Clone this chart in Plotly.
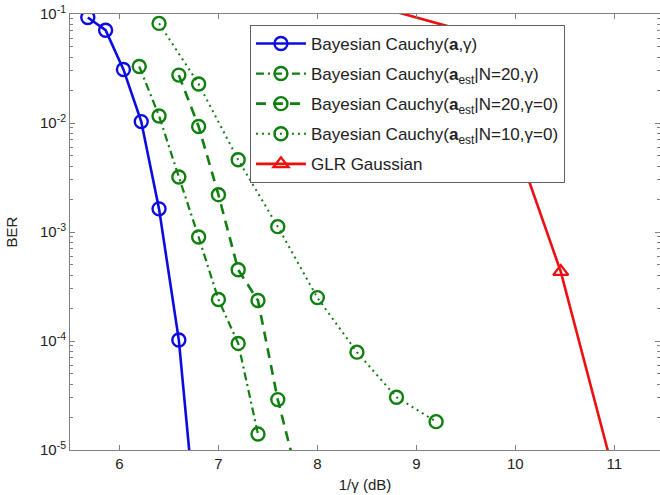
import plotly.graph_objects as go

# BER curves versus 1/gamma (dB)
bayes_x = [5.68, 5.86, 6.04, 6.22, 6.40, 6.60, 6.80]
bayes_y = [0.093, 0.071, 0.031, 0.0103, 0.00163, 1.02e-4, 1.2e-6]

est20_x = [6.2, 6.4, 6.6, 6.8, 7.0, 7.2, 7.4]
est20_y = [0.033, 0.0116, 0.0032, 9.0e-4, 2.4e-4, 9.5e-5, 1.4e-5]

est20g0_x = [6.6, 6.8, 7.0, 7.2, 7.4, 7.6, 7.8]
est20g0_y = [0.0275, 0.0093, 0.0022, 4.5e-4, 2.35e-4, 2.9e-5, 5.6e-6]

est10g0_x = [6.4, 6.8, 7.2, 7.6, 8.0, 8.4, 8.8, 9.2]
est10g0_y = [0.082, 0.0228, 0.0046, 0.00112, 2.5e-4, 7.9e-5, 3.05e-5, 1.82e-5]

glr_x = [8.6, 9.62, 10.46, 11.2]
glr_y = [0.117, 0.065, 4.33e-4, 1.2e-6]

names = [
    "Bayesian Cauchy(<b>a</b>,γ)",
    "Bayesian Cauchy(<b>a</b><sub>est</sub>|N=20,γ)",
    "Bayesian Cauchy(<b>a</b><sub>est</sub>|N=20,γ=0)",
    "Bayesian Cauchy(<b>a</b><sub>est</sub>|N=10,γ=0)",
    "GLR Gaussian",
]

x_ticks = [6, 7, 8, 9, 10, 11]
y_ticks = [1e-5, 1e-4, 1e-3, 1e-2, 1e-1]
y_ticktext = ["10<sup>-5</sup>", "10<sup>-4</sup>", "10<sup>-3</sup>",
              "10<sup>-2</sup>", "10<sup>-1</sup>"]
y_minor = [m * 10.0 ** e for e in range(-5, -1) for m in range(2, 10)]

BLUE = "#0c0ce0"
GREEN = "#0f7f0f"
RED = "#ec1010"

fig = go.Figure()

series = [
    (bayes_x, bayes_y, BLUE, "solid", 2.6, "circle-open"),
    (est20_x, est20_y, GREEN, "8px,4px,2px,4px", 2.2, "circle-open"),
    (est20g0_x, est20g0_y, GREEN, "10px,7px", 2.6, "circle-open"),
    (est10g0_x, est10g0_y, GREEN, "2px,4px", 2.0, "circle-open"),
    (glr_x, glr_y, RED, "solid", 2.6, "triangle-up-open"),
]

for i, (xs, ys, col, dash, lw, sym) in enumerate(series):
    fig.add_trace(go.Scatter(
        x=xs, y=ys, name=names[i], mode="lines+markers",
        legendgroup=f"g{i}",
        line=dict(color=col, width=lw, dash=dash),
        marker=dict(symbol=sym, size=13, color=col, line=dict(color=col, width=2.4)),
        cliponaxis=True,
    ))

axis_common = dict(
    showline=True, linecolor="#808080", linewidth=1, mirror="ticks",
    ticks="inside", ticklen=5, tickcolor="#808080", showgrid=False,
    zeroline=False, tickfont=dict(family="Liberation Sans", size=15, color="#222"),
)

fig.update_xaxes(
    range=[5.5, 11.463], tickvals=x_ticks,
    title=dict(text="1/γ (dB)", font=dict(family="Liberation Sans", size=15, color="#222"),
               standoff=8),
    **axis_common,
)
fig.update_yaxes(
    type="log", range=[-5, -1], tickvals=y_ticks, ticktext=y_ticktext,
    minor=dict(tickvals=y_minor, ticks="inside", ticklen=3, tickcolor="#808080"),
    title=dict(text="BER", font=dict(family="Liberation Sans", size=15, color="#222"),
               standoff=18),
    **axis_common,
)

fig.update_layout(
    width=660, height=495,
    margin=dict(l=70, r=0, t=14, b=45),
    paper_bgcolor="white", plot_bgcolor="white",
    font=dict(family="Liberation Sans", size=15, color="#222"),
    legend=dict(
        x=0.305, y=0.975, xanchor="left", yanchor="top",
        bgcolor="white", bordercolor="#606060", borderwidth=1,
        traceorder="grouped", tracegroupgap=5, itemwidth=50,
        font=dict(family="Liberation Sans", size=17, color="#222"),
    ),
    showlegend=True,
)

fig.write_html("out.html")
